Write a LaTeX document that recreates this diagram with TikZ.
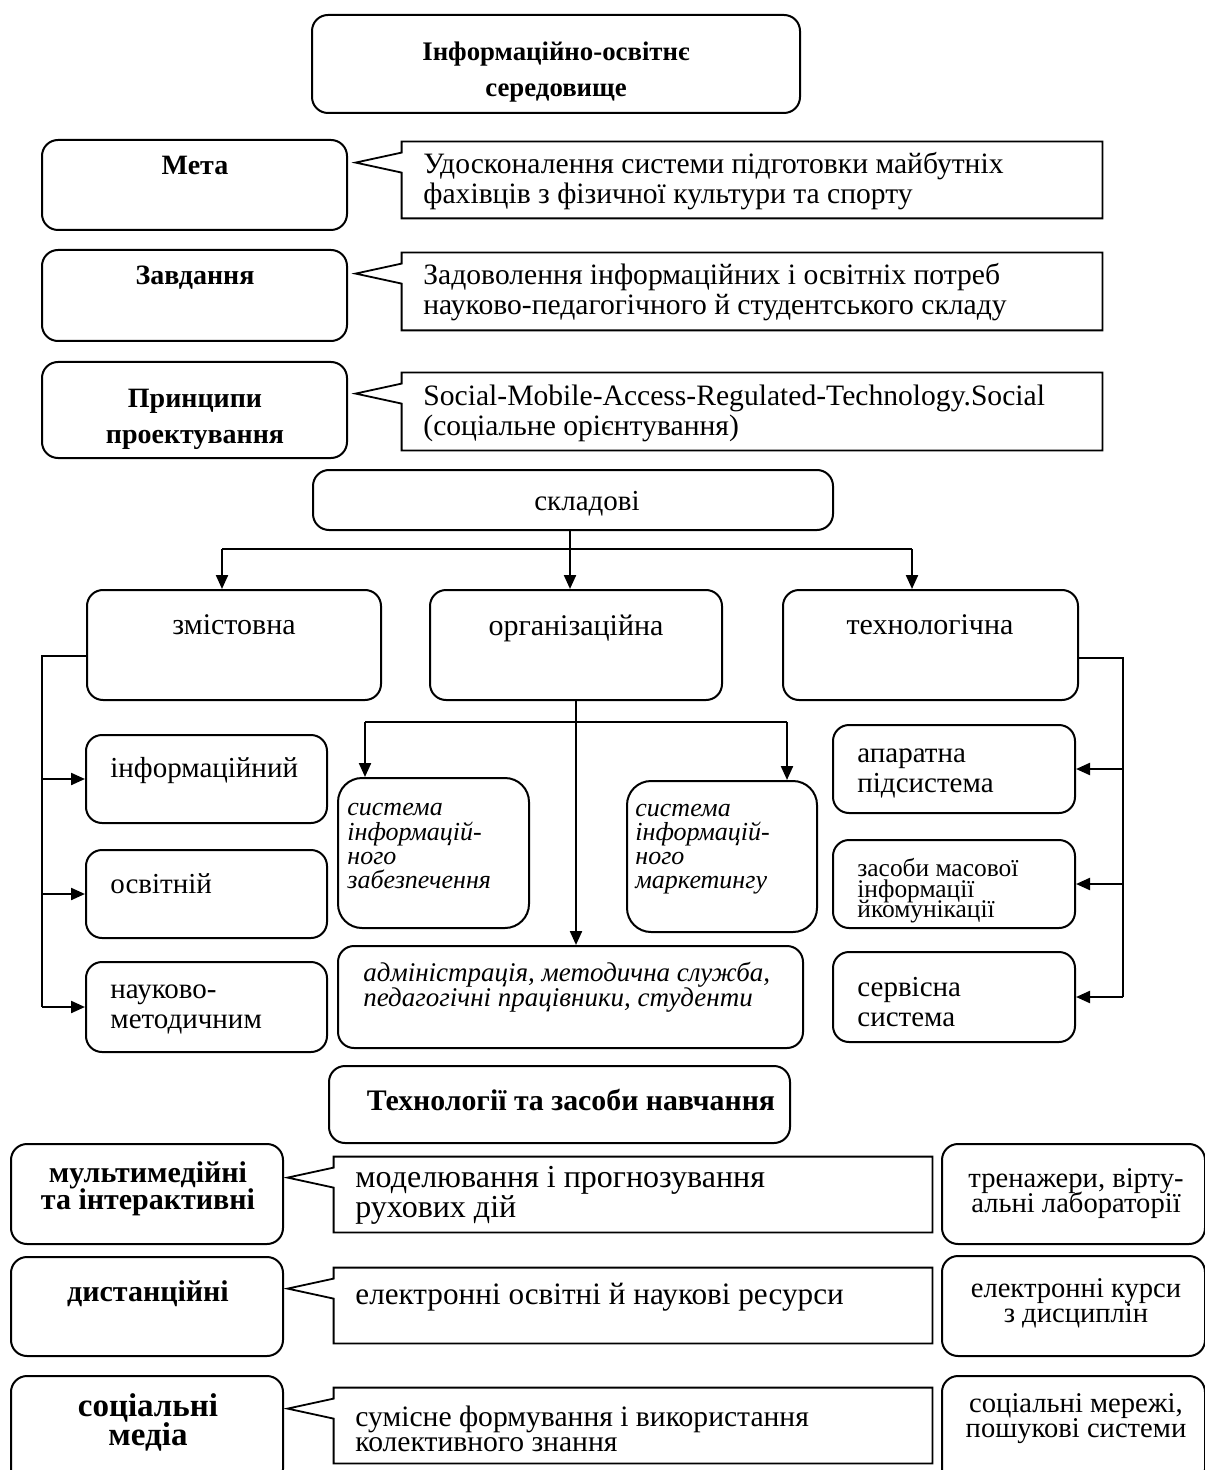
\documentclass[tikz,border=0pt]{standalone}
\usepackage{fontspec}
\setmainfont{Liberation Serif}
\usepackage{tikz}
\usetikzlibrary{calc,fit,arrows.meta}
\lineskiplimit=-20pt
\lineskip=0pt
\tikzset{
  rbox/.style={draw, line width=1pt, rounded corners=8pt, inner sep=0pt},
  bigr/.style={rbox, rounded corners=12pt},
  area/.style={inner sep=0pt},
  cline/.style={draw, line width=0.9pt, line join=miter},
  link/.style={draw, line width=1.1pt},
  arr/.style={link, -{Triangle[length=7pt,width=6pt]}},
  lab/.style={inner sep=0pt, align=left, font=\fontsize{14.5}{15}\selectfont},
  labc/.style={lab, align=center},
  labk/.style={lab, font=\fontsize{14.8}{15}\selectfont},
  labi/.style={lab, font=\fontsize{13}{12}\selectfont\itshape},
  head/.style={inner sep=0pt, align=center, font=\fontsize{14}{18}\selectfont\bfseries},
}

\begin{document}
\begin{tikzpicture}[x=0.5pt, y=-0.5pt]
  \useasboundingbox (0,0) rectangle (1204,1470);

  % title and the three callouts
  \node[rbox, fit={(312,15)(800,113)}] (env) {};
  \node[head, font=\fontsize{13.4}{18}\selectfont\bfseries] (envt) at (556,72) {Інформаційно-освітнє\\середовище};

  \node[rbox, fit={(42,140)(347,230)}] (meta) {};
  \node[head] (metat) at (195,165) {Мета};
  \node[area, fit={(402,142)(1102,218)}] (cmeta) {};
  \node[labk, anchor=west] (cmetat) at (423,181)
    {Удосконалення системи підготовки майбутніх\\фахівців з фізичної культури та спорту};

  \node[rbox, fit={(42,250)(347,341)}] (zav) {};
  \node[head] (zavt) at (195,278) {Завдання};
  \node[area, fit={(402,253)(1102,330)}] (czav) {};
  \node[labk, anchor=west] (czavt) at (423,292)
    {Задоволення інформаційних і освітніх потреб\\науково-педагогічного й студентського складу};

  \node[rbox, fit={(42,362)(347,458)}] (prin) {};
  \node[head] (print) at (195,419) {Принципи\\проектування};
  \node[area, fit={(402,373)(1102,450)}] (cprin) {};
  \node[labk, anchor=west] (cprint) at (423,413)
    {Social-Mobile-Access-Regulated-Technology.Social\\(соціальне орієнтування)};

  % components
  \node[rbox, fit={(313,470)(833,530)}] (skl) {};
  \node[lab] (sklt) at (587,504) {складові};

  \node[rbox, fit={(87,590)(381,700)}] (zmist) {};
  \node[lab, font=\fontsize{15}{15}\selectfont] (zmistt) at (234,625) {змістовна};
  \node[rbox, fit={(430,590)(722,700)}] (org) {};
  \node[lab, font=\fontsize{15}{15}\selectfont] (orgt) at (576,628) {організаційна};
  \node[rbox, fit={(783,590)(1078,700)}] (tech) {};
  \node[lab, font=\fontsize{15}{15}\selectfont] (techt) at (930,625) {технологічна};

  \coordinate (bl) at (222,549);
  \coordinate (br) at (912,549);
  \draw[link] (bl) -- (br);
  \draw[arr] (skl.south) ++(-3,0) coordinate (sd) -- (sd |- org.north);
  \draw[arr] (bl) -- (bl |- zmist.north);
  \draw[arr] (br) -- (br |- tech.north);

  % content side
  \node[rbox, fit={(86,735)(327,823)}] (info) {};
  \node[lab, anchor=west] (infot) at (110,771) {інформаційний};
  \node[rbox, fit={(86,850)(327,938)}] (osv) {};
  \node[lab, anchor=west] (osvt) at (110,884) {освітній};
  \node[rbox, fit={(86,962)(327,1052)}] (nauk) {};
  \node[lab, anchor=west] (naukt) at (110,1009) {науково-\\методичним};

  \coordinate (lt) at (42,656);
  \draw[link] (zmist.west |- lt) -- (lt) -- (lt |- nauk.west);
  \draw[arr] (lt |- info.west) -- (info.west);
  \draw[arr] (lt |- osv.west) -- (osv.west);
  \draw[arr] (lt |- nauk.west) -- (nauk.west);

  % organisational side
  \node[bigr, fit={(338,778)(529,928)}] (sys1) {};
  \node[labi, anchor=west] (sys1t) at (347,846) {система\\інформацій-\\ного\\забезпечення};
  \node[bigr, fit={(627,781)(817,932)}] (sys2) {};
  \node[labi, anchor=west] (sys2t) at (635,849) {система\\інформацій-\\ного\\маркетингу};
  \node[rbox, fit={(338,946)(803,1048)}] (adm) {};
  \node[labi, anchor=west, font=\fontsize{13.5}{12.5}\selectfont\itshape] (admt) at (363,987)
    {адміністрація, методична служба,\\педагогічні працівники, студенти};

  \coordinate (ol) at (365,722);
  \coordinate (or) at (787,722);
  \draw[link] (ol) -- (or);
  \draw[arr] (org.south) -- (org.south |- adm.north);
  \draw[arr] (ol) -- (ol |- sys1.north);
  \draw[arr] (or) -- (or |- sys2.north);

  % technological side
  \node[rbox, fit={(833,725)(1075,813)}] (apar) {};
  \node[lab, anchor=west] (apart) at (857,773) {апаратна\\підсистема};
  \node[rbox, fit={(833,840)(1075,928)}] (zas) {};
  \node[lab, anchor=west, font=\fontsize{12.7}{10.3}\selectfont] (zast) at (857,891)
    {засоби масової\\інформації\\йкомунікації};
  \node[rbox, fit={(833,952)(1075,1042)}] (serv) {};
  \node[lab, anchor=west] (servt) at (857,1002) {сервісна\\система};

  \coordinate (rt) at (1123,658);
  \draw[link] (tech.east |- rt) -- (rt) -- (rt |- serv.east);
  \draw[arr] (rt |- apar.east) -- (apar.east);
  \draw[arr] (rt |- zas.east) -- (zas.east);
  \draw[arr] (rt |- serv.east) -- (serv.east);

  % technologies and tools
  \node[rbox, fit={(329,1066)(790,1143)}] (ttl) {};
  \node[head, font=\fontsize{14.9}{18}\selectfont\bfseries] (ttlt) at (571,1100) {Технології та засоби навчання};

  \node[rbox, fit={(11,1144)(283,1244)}] (mult) {};
  \node[head, font=\fontsize{15}{13.5}\selectfont\bfseries] (multt) at (148,1189) {мультимедійні\\та інтерактивні};
  \node[area, fit={(334,1157)(932,1232)}] (cmult) {};
  \node[lab, anchor=west, font=\fontsize{16}{15}\selectfont] (cmultt) at (355,1195)
    {моделювання і прогнозування\\рухових дій};
  \node[rbox, fit={(942,1144)(1205,1244)}] (tren) {};
  \node[labc, font=\fontsize{14.3}{12.5}\selectfont] (trent) at (1076,1194) {тренажери, вірту-\\альні лабораторії};

  \node[rbox, fit={(11,1257)(283,1356)}] (dist) {};
  \node[head, font=\fontsize{15}{13.5}\selectfont\bfseries] (distt) at (148,1294) {дистанційні};
  \node[area, fit={(334,1268)(932,1343)}] (cdist) {};
  \node[lab, anchor=west, font=\fontsize{15.6}{15}\selectfont] (cdistt) at (355,1297)
    {електронні освітні й наукові ресурси};
  \node[rbox, fit={(942,1256)(1205,1356)}] (kurs) {};
  \node[labc, font=\fontsize{14.3}{12.5}\selectfont] (kurst) at (1076,1303) {електронні курси\\з дисциплін};

  \node[rbox, fit={(11,1376)(283,1485)}] (soc) {};
  \node[head, font=\fontsize{16.5}{14.5}\selectfont\bfseries] (soct) at (148,1422) {соціальні\\медіа};
  \node[area, fit={(334,1388)(932,1463)}] (csoc) {};
  \node[lab, anchor=west, font=\fontsize{14.8}{12.8}\selectfont] (csoct) at (355,1429)
    {сумісне формування і використання\\колективного знання};
  \node[rbox, fit={(942,1376)(1205,1485)}] (mer) {};
  \node[labc, font=\fontsize{14.3}{12.5}\selectfont] (mert) at (1076,1419) {соціальні мережі,\\пошукові системи};

  % pointer shapes of the callouts
  \foreach \c in {cmeta,czav,cprin,cmult,cdist,csoc}
    \draw[cline] (\c.north west) -- (\c.north east) -- (\c.south east) -- (\c.south west)
      -- ($(\c.north west)+(0,31)$) -- ($(\c.north west)+(-46,21)$) -- ($(\c.north west)+(0,11)$) -- cycle;
\end{tikzpicture}
\end{document}
